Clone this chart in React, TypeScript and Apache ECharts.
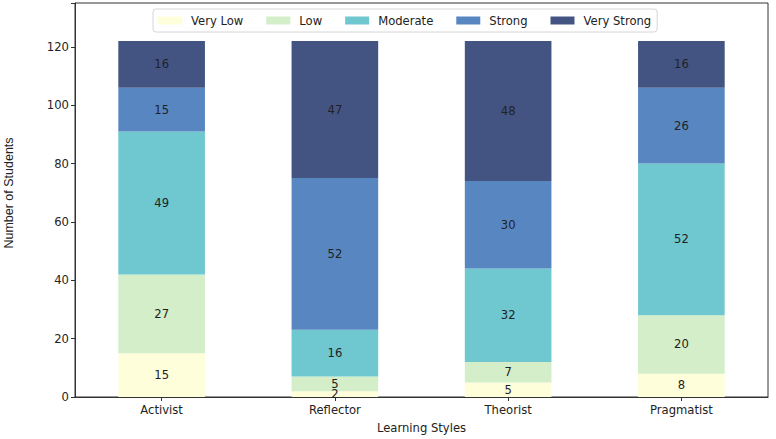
import React, { useEffect, useRef } from "react";
import * as echarts from "echarts";

const categories = ["Activist", "Reflector", "Theorist", "Pragmatist"];
const seriesNames = ["Very Low", "Low", "Moderate", "Strong", "Very Strong"];
const veryLow = [15, 2, 5, 8];
const low = [27, 5, 7, 20];
const moderate = [49, 16, 32, 52];
const strong = [15, 52, 30, 26];
const veryStrong = [16, 47, 48, 16];
const colors = ["#fefedb", "#d3eec8", "#6fc7d0", "#5786c1", "#435483"];
const yTicks = [0, 20, 40, 60, 80, 100, 120];
const yTitle = "Number of Students";

const FONT = "DejaVu Sans";

export default function App() {
  const ref = useRef<HTMLDivElement>(null);
  useEffect(() => {
    if (!ref.current) return;
    const chart = echarts.init(ref.current, null, { renderer: "svg" });
    const values = [veryLow, low, moderate, strong, veryStrong];
    chart.setOption({
      animation: false,
      textStyle: { fontFamily: FONT },
      grid: {
        left: 75,
        right: 8,
        top: 3,
        bottom: 41,
        show: true,
        borderColor: "#333",
        borderWidth: 1,
        backgroundColor: "transparent",
      },
      legend: {
        data: seriesNames,
        left: 153,
        top: 9,
        orient: "horizontal",
        itemWidth: 24,
        itemHeight: 8,
        itemGap: 23,
        padding: [5, 6, 5, 5],
        borderColor: "#d6d6d6",
        borderWidth: 1,
        borderRadius: 3,
        backgroundColor: "rgba(255,255,255,0.85)",
        icon: "rect",
        textStyle: {
          fontFamily: FONT,
          fontSize: 11.6,
          color: "#222",
          padding: [0, 0, 0, 4],
          lineHeight: 13,
        },
      },
      graphic: [
        {
          type: "text",
          x: 9,
          y: 193,
          rotation: Math.PI / 2,
          style: {
            text: yTitle,
            fontFamily: "Liberation Sans",
            fontSize: 12.5,
            fill: "#222",
            align: "center",
            verticalAlign: "middle",
          },
        },
      ],
      xAxis: {
        type: "category",
        data: categories,
        name: "Learning Styles",
        nameLocation: "middle",
        nameGap: 25,
        nameTextStyle: { fontFamily: FONT, fontSize: 11.6, color: "#222" },
        axisLine: { show: true, lineStyle: { color: "#333", width: 1 } },
        axisTick: { show: true, alignWithLabel: true, length: 4, lineStyle: { color: "#333" } },
        axisLabel: { fontFamily: FONT, fontSize: 11.6, color: "#222", margin: 7 },
      },
      yAxis: {
        type: "value",
        min: 0,
        max: 135,
        interval: 20,
        axisLine: { show: true, lineStyle: { color: "#333", width: 1 } },
        axisTick: { show: true, length: 4, lineStyle: { color: "#333" } },
        axisLabel: {
          fontFamily: FONT,
          fontSize: 11.6,
          color: "#222",
          margin: 6,
          formatter: (v: number) => (yTicks.includes(v) ? String(v) : ""),
        },
        splitLine: { show: false },
      },
      series: seriesNames.map((name, i) => ({
        name,
        type: "bar",
        stack: "total",
        barWidth: "50%",
        data: values[i],
        itemStyle: { color: colors[i] },
        label: {
          show: true,
          position: "inside",
          fontFamily: FONT,
          fontSize: 11.6,
          color: "#222",
        },
        emphasis: { disabled: true },
      })),
    });
    return () => chart.dispose();
  }, []);
  return <div ref={ref} style={{ width: 776, height: 439, position: "absolute", left: 0, top: 0, background: "#fff" }} />;
}
